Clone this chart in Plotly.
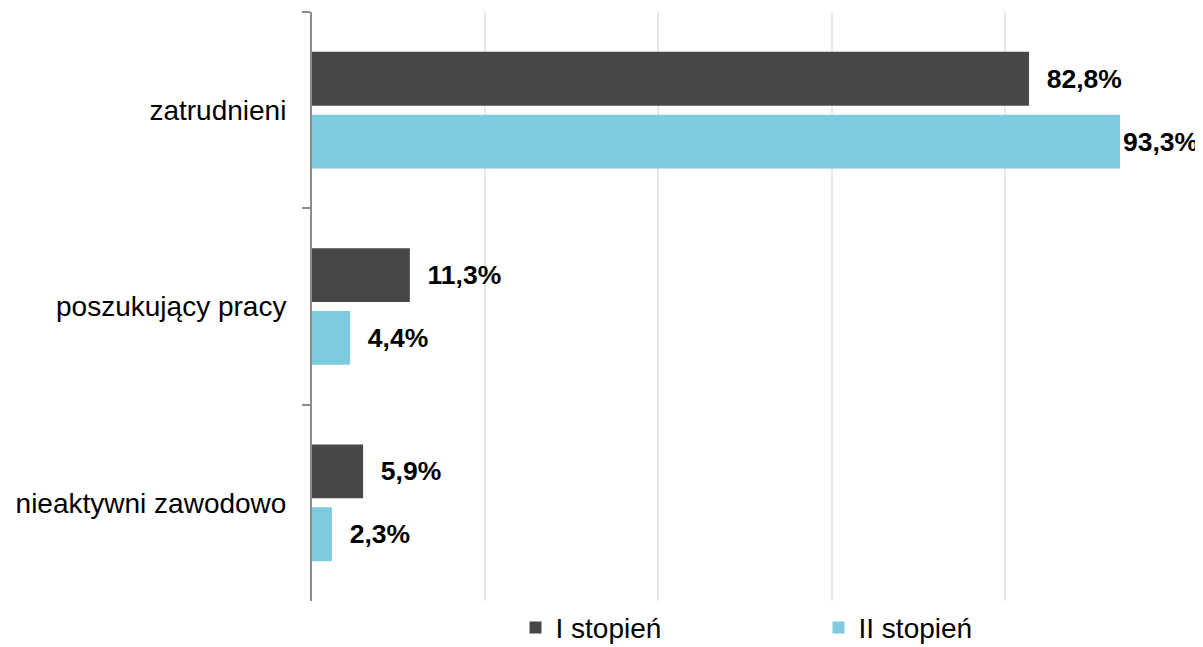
import plotly.graph_objects as go

categories = ["zatrudnieni", "poszukujący pracy", "nieaktywni zawodowo"]
series_names = ["I stopień", "II stopień"]
values_I = [82.8, 11.3, 5.9]
values_II = [93.3, 4.4, 2.3]
x_tickvals = [0, 20, 40, 60, 80, 100]

colors = ["#474747", "#7ecbdf"]
NB = "\u00a0"


def fmt(v, pad):
    return pad + f"{v:.1f}".replace(".", ",") + "%"


def labels(vals):
    # extra padding except when the label would run off the page
    return [fmt(v, "" if v > 90 else NB * 2) for v in vals]


fig = go.Figure()
for name, vals, col in zip(series_names, [values_I, values_II], colors):
    fig.add_trace(go.Bar(
        y=categories, x=vals, name=name, orientation="h",
        marker=dict(color=col, line=dict(width=0)),
        text=labels(vals), textposition="outside",
        textfont=dict(family="Liberation Sans", size=26.5, color="#000000", weight="bold"),
        cliponaxis=False, constraintext="none",
        hoverinfo="x+name",
    ))

# page body has an 8px margin, so the figure is sized/positioned to compensate
fig.update_layout(
    width=1195, height=639,
    margin=dict(l=304, r=25, t=4, b=46, autoexpand=False),
    paper_bgcolor="white", plot_bgcolor="white",
    font=dict(family="Liberation Sans", size=28, color="#000000"),
    barmode="group", bargap=0.36, bargroupgap=0.144,
    showlegend=True,
    legend=dict(
        orientation="h", x=0.235, xanchor="left",
        yref="container", y=0.03, yanchor="middle",
        font=dict(size=28, color="#000000"),
        entrywidth=258, entrywidthmode="pixels",
        itemwidth=30, traceorder="normal",
    ),
    xaxis=dict(
        range=[0, 100], tickvals=x_tickvals, showticklabels=False,
        showgrid=True, gridcolor="#e8e8e8", gridwidth=1.5,
        zeroline=False, showline=False, fixedrange=True,
    ),
    yaxis=dict(
        autorange="reversed", categoryorder="array", categoryarray=categories,
        showline=True, linecolor="#8c8c8c", linewidth=2,
        ticks="outside", ticklen=8, tickcolor="#8c8c8c", tickwidth=2,
        tickson="boundaries", ticklabelstandoff=18,
        showgrid=False, zeroline=False,
        tickfont=dict(size=28, color="#000000"),
    ),
)

fig.write_html("out.html")
